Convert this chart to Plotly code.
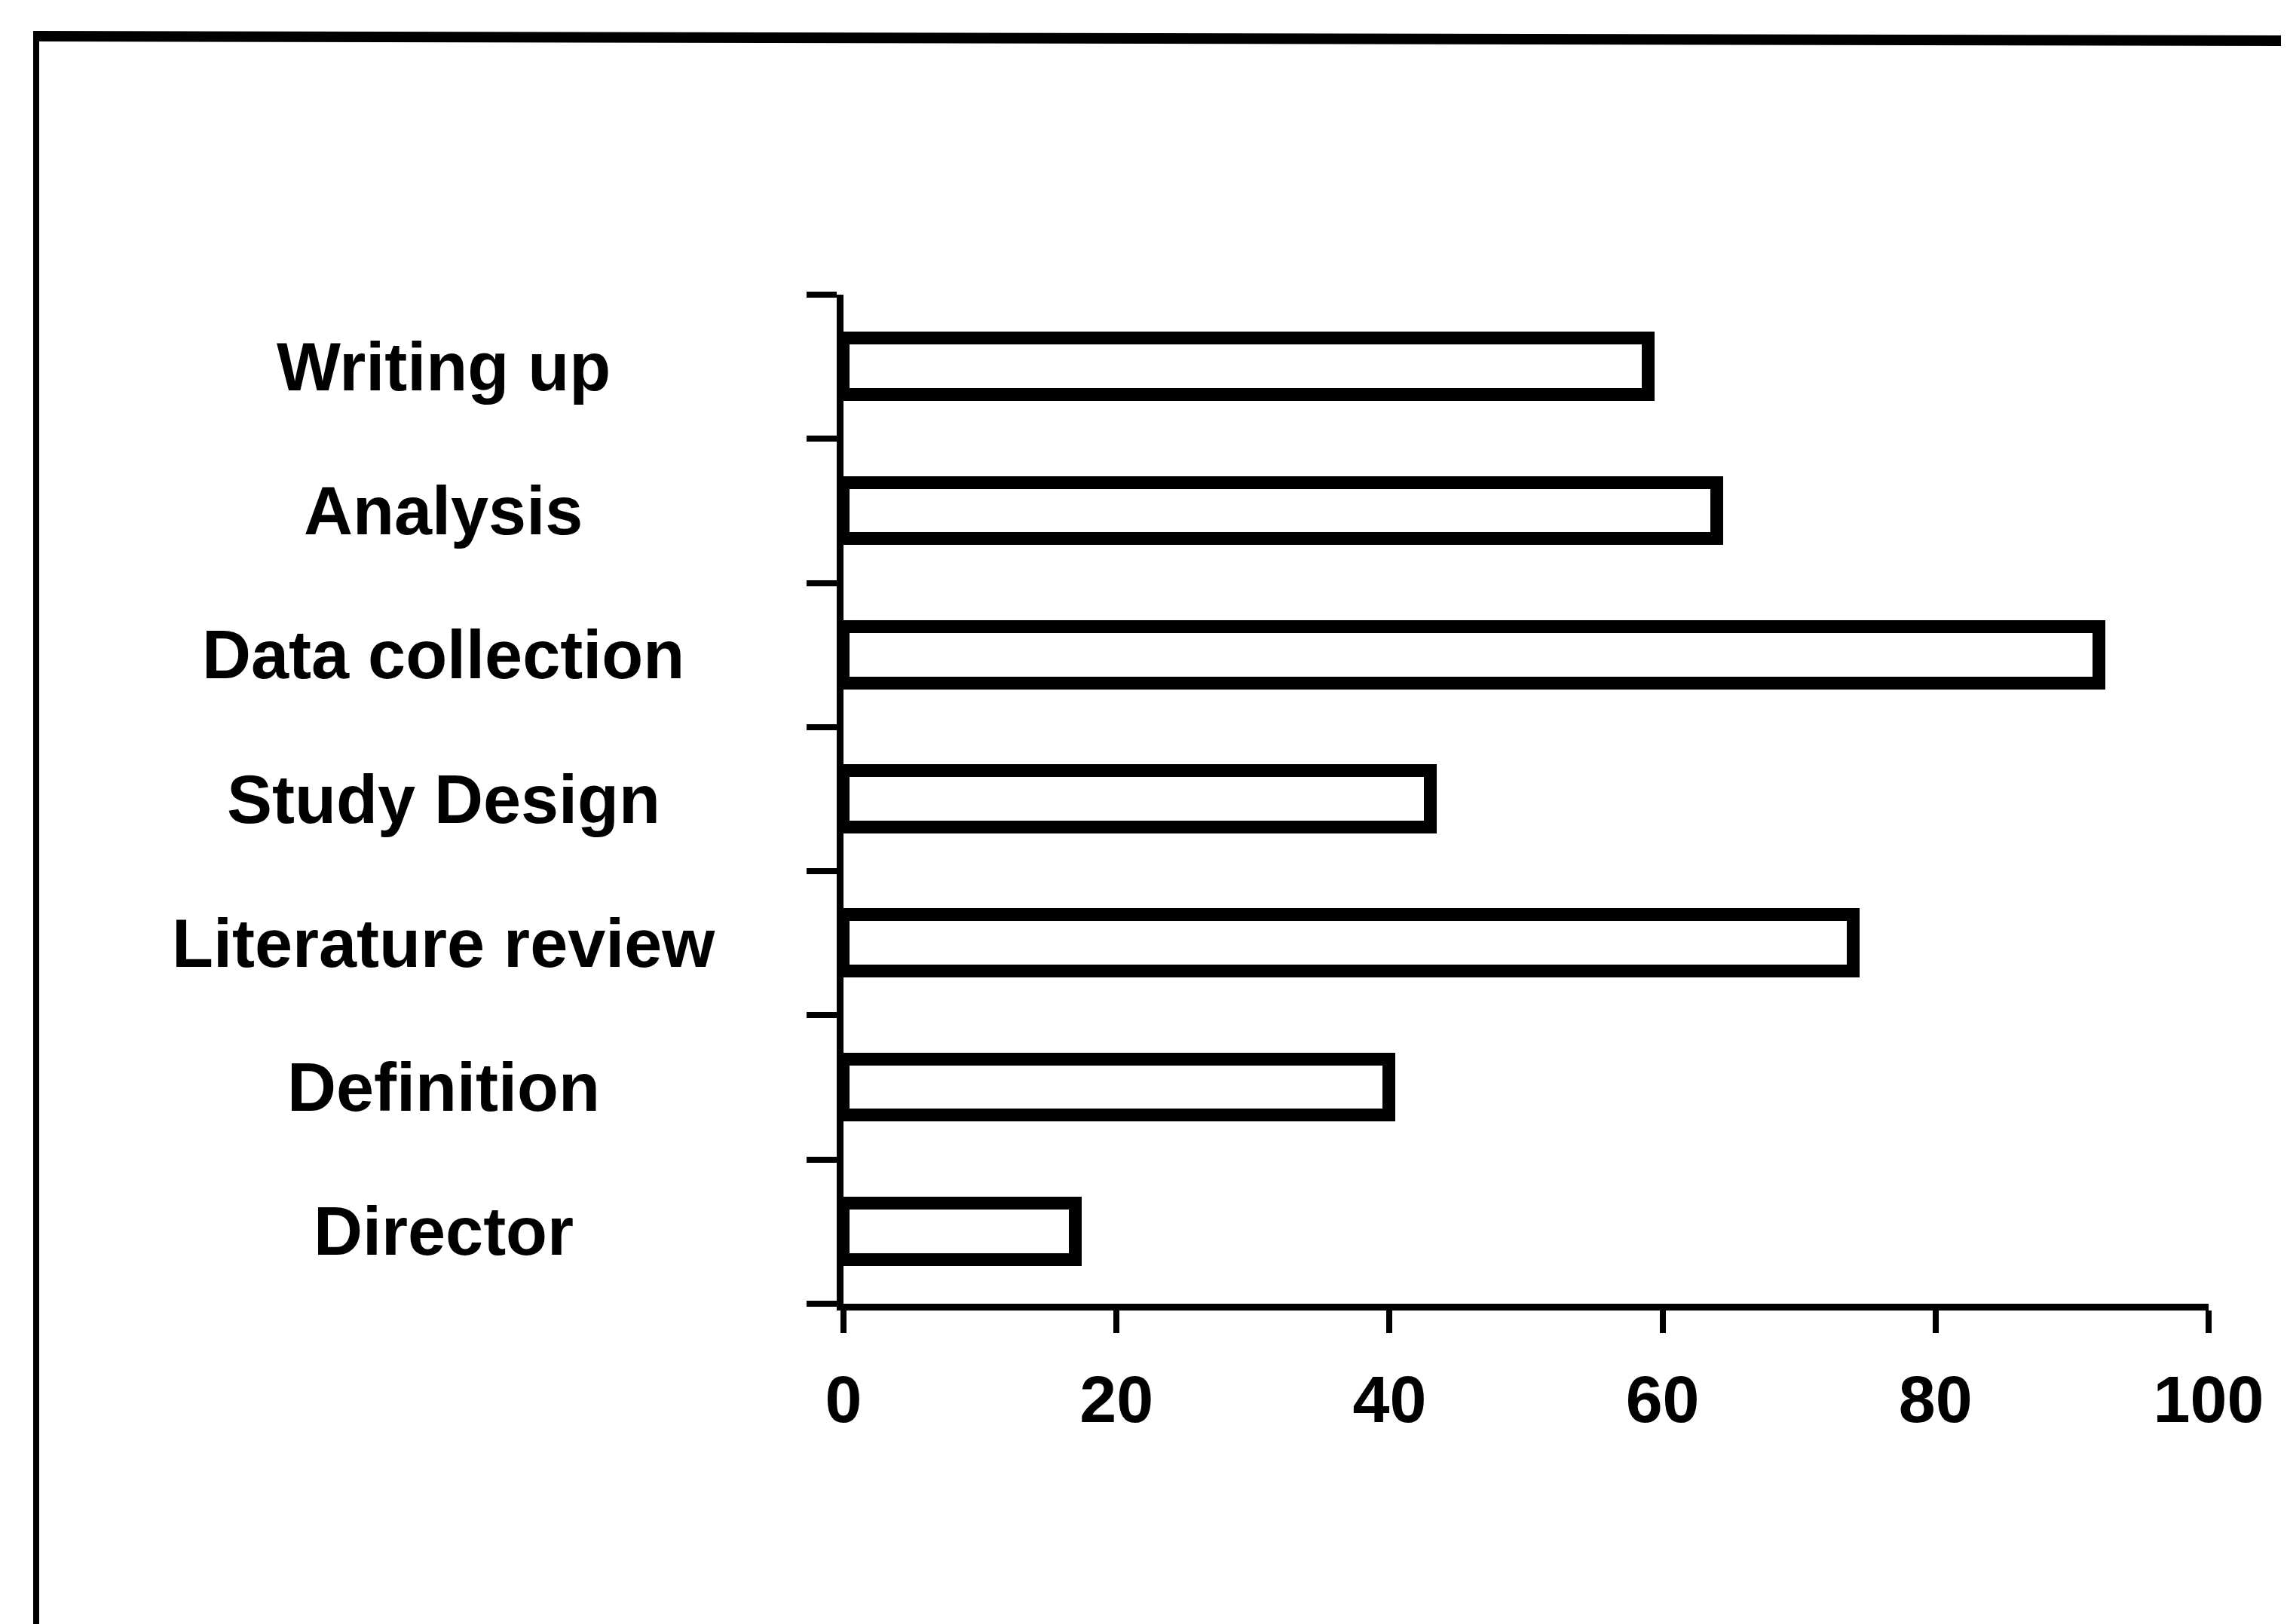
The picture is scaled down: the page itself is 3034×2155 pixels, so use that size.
import plotly.graph_objects as go

# categories bottom to top
stages = ["Director", "Definition", "Literature review", "Study Design",
          "Data collection", "Analysis", "Writing up"]
values = [17, 40, 74, 43, 92, 64, 59]
x_ticks = [0, 20, 40, 60, 80, 100]

W, H = 3034, 2155
L, R, T, B = 1111, 2922, 383, 1722
FONT = "Liberation Sans, Arial, sans-serif"


def px_x(p):
    return (p - L) / (R - L)


def px_y(p):
    return (B - p) / (B - T)


fig = go.Figure()

fig.add_trace(go.Bar(
    x=values,
    y=stages,
    orientation="h",
    width=0.39,
    marker=dict(color="white", line=dict(color="black", width=17)),
    showlegend=False,
))

# category labels, centred in the left margin
for s in stages:
    fig.add_annotation(
        x=px_x(580), xref="paper", y=s, yref="y",
        text=s, showarrow=False, xanchor="center", yanchor="middle",
        font=dict(family=FONT, size=90, color="black", weight="bold"),
    )

# page frame (top and left edges)
fig.add_shape(type="line", xref="paper", yref="paper",
              x0=px_x(36), y0=px_y(40), x1=px_x(3040), y1=px_y(46),
              line=dict(color="black", width=14))
fig.add_shape(type="line", xref="paper", yref="paper",
              x0=px_x(40), y0=px_y(34), x1=px_x(40), y1=px_y(2160),
              line=dict(color="black", width=8))

fig.update_xaxes(
    range=[0, 100],
    tickvals=x_ticks,
    ticks="outside", ticklen=30, tickwidth=8, tickcolor="black",
    showline=True, linewidth=9, linecolor="black",
    showgrid=False, zeroline=False,
    tickfont=dict(family=FONT, size=88, color="black", weight="bold"),
    ticklabelstandoff=12,
)
fig.update_yaxes(
    categoryorder="array", categoryarray=stages,
    range=[-0.5, 6.5],
    tickson="boundaries",
    ticks="outside", ticklen=40, tickwidth=8, tickcolor="black",
    showticklabels=False,
    showline=True, linewidth=9, linecolor="black",
    showgrid=False, zeroline=False,
)

fig.update_layout(
    width=W, height=H,
    margin=dict(l=L, r=W - R, t=T, b=H - B),
    paper_bgcolor="white", plot_bgcolor="white",
    bargap=0,
)

fig.write_html("out.html")
